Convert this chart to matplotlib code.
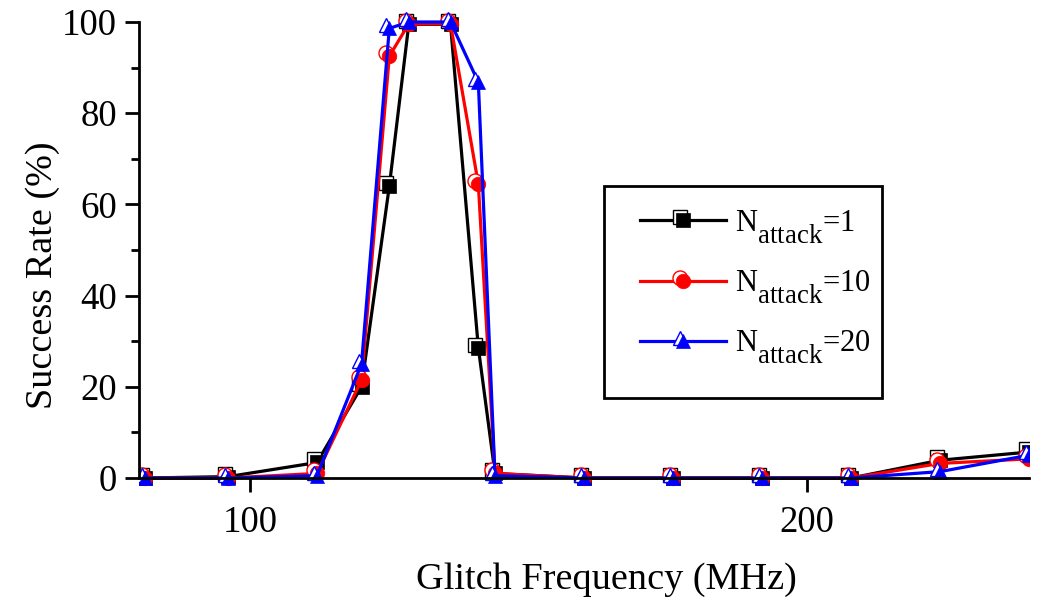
import matplotlib
matplotlib.use("Agg")
import matplotlib.pyplot as plt
import matplotlib._mathtext as _mathtext
from matplotlib.markers import MarkerStyle
from matplotlib.transforms import Affine2D
from matplotlib.patches import Rectangle
from matplotlib.legend_handler import HandlerTuple
from matplotlib.ticker import MultipleLocator, FixedLocator

plt.rcParams['font.family'] = ['Liberation Serif', 'DejaVu Serif']
plt.rcParams['mathtext.fontset'] = 'custom'
plt.rcParams['mathtext.rm'] = 'Liberation Serif'
plt.rcParams['mathtext.it'] = 'Liberation Serif:italic'
# larger, lower subscripts for the legend labels
_mathtext.SHRINK_FACTOR = 0.88
_mathtext.FontConstantsBase.sub1 = 0.85

# Glitch frequency (MHz)
freq = [81, 96, 112, 120, 125, 128.5, 136, 141, 144, 160, 176, 192, 208, 224, 240]

# Success rate (%) for each number of attacks
rate_n1 = [0, 0.3, 3.4, 20.0, 64.0, 99.5, 99.5, 28.6, 1.0, 0, 0, 0, 0, 3.9, 5.7]
rate_n10 = [0, 0, 1.0, 21.5, 92.5, 99.6, 99.6, 64.5, 1.0, 0, 0, 0, 0, 3.2, 4.2]
rate_n20 = [0, 0, 0.5, 25.0, 98.6, 100, 100, 86.8, 0.5, 0, 0, 0, 0, 1.4, 5.0]

labels = [r'N$_{\mathrm{attack}}$=1', r'N$_{\mathrm{attack}}$=10', r'N$_{\mathrm{attack}}$=20']
colors = ['black', 'red', 'blue']
markers = ['s', 'o', '^']

W, H = 1043, 597
fig = plt.figure(figsize=(W / 100, H / 100), dpi=100)
ax = fig.add_axes([139 / W, 1 - 478 / H, 890 / W, 456 / H])

# clip only at the left/right edges so markers at 0 and 100 stay whole
clip_rect = Rectangle((0, -0.2), 1.0, 1.4, transform=ax.transAxes,
                      facecolor='none', edgecolor='none')

handles = []
for y, c, m in zip([rate_n1, rate_n10, rate_n20], colors, markers):
    shadow = MarkerStyle(m, transform=Affine2D().translate(-0.22, 0.22))
    ln, = ax.plot(freq, y, color=c, lw=2.3, marker=shadow, ms=10.5,
                  mfc='white', mec=c, mew=1.0)
    pts, = ax.plot(freq, y, ls='none', marker=m, ms=10.5, mfc=c, mec=c, mew=0.5)
    for artist in (ln, pts):
        artist.set_clip_path(clip_rect)
    handles.append((ln, pts))

ax.set_xlim(80, 240)
ax.set_ylim(0, 100)

ax.xaxis.set_major_locator(FixedLocator([100, 200]))
ax.yaxis.set_major_locator(MultipleLocator(20))
ax.yaxis.set_minor_locator(MultipleLocator(10))

for side in ('top', 'right'):
    ax.spines[side].set_visible(False)
for side in ('left', 'bottom'):
    ax.spines[side].set_linewidth(2)

ax.tick_params(axis='both', which='major', direction='out', length=10, width=2,
               labelsize=26.5)
ax.tick_params(axis='x', which='major', pad=10)
ax.tick_params(axis='y', which='major', pad=6)
ax.tick_params(axis='y', which='minor', direction='out', length=5.5, width=2)

ax.set_xlabel('Glitch Frequency (MHz)', fontsize=27.5, labelpad=16)
ax.set_ylabel('Success Rate (%)', fontsize=27.5, labelpad=1.5)
ax.xaxis.label.set_x(0.5247)
ax.yaxis.label.set_y(0.445)

leg = ax.legend(handles, labels, handler_map={tuple: HandlerTuple(ndivide=1)},
                loc='upper left', bbox_to_anchor=(640 / W, 1 - 208 / H),
                bbox_transform=fig.transFigure,
                fontsize=22, frameon=False, handlelength=2.8,
                borderpad=0, labelspacing=0.74, handletextpad=0.3,
                borderaxespad=0)

# legend frame
fig.patches.append(Rectangle((604 / W, 1 - 398 / H), 278 / W, 212 / H,
                             transform=fig.transFigure, fill=False,
                             edgecolor='black', linewidth=2))

fig.savefig('out.png', dpi=100)
